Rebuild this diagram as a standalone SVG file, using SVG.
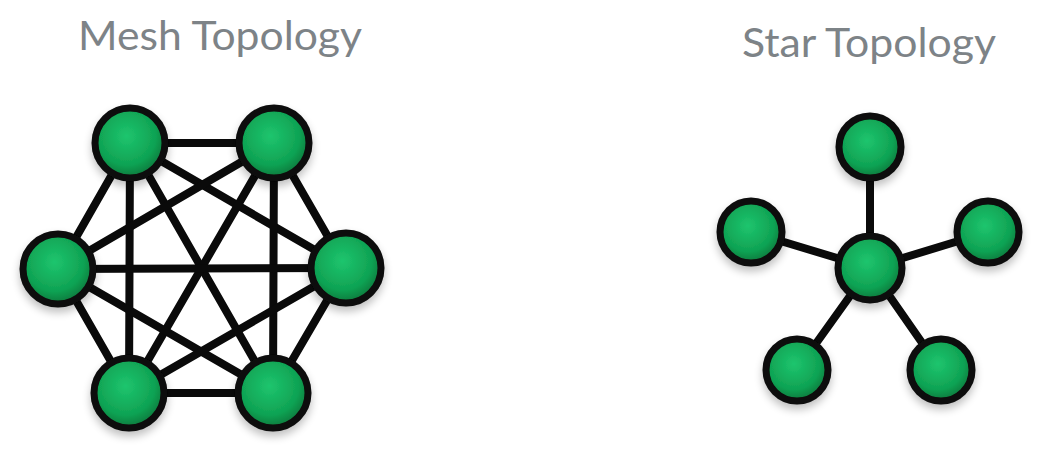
<svg xmlns="http://www.w3.org/2000/svg" width="1054" height="456" viewBox="0 0 1054 456">
<defs>
<radialGradient id="g" cx="0.45" cy="0.4" r="0.6">
<stop offset="0" stop-color="#1ec56e"/>
<stop offset="0.7" stop-color="#0fa253"/>
<stop offset="1" stop-color="#08773b"/>
</radialGradient>
<filter id="sh" x="-30%" y="-30%" width="160%" height="170%">
<feGaussianBlur in="SourceAlpha" stdDeviation="4"/>
<feOffset dy="5"/>
<feComponentTransfer><feFuncA type="linear" slope="0.25"/></feComponentTransfer>
<feMerge><feMergeNode/><feMergeNode in="SourceGraphic"/></feMerge>
</filter>
</defs>
<style>
.t{font-family:Lato,"Open Sans",sans-serif;font-size:40px;fill:#7d8387}
.e{stroke:#0a0a0a;stroke-width:8;stroke-linecap:round;fill:none}
.n{fill:url(#g);stroke:#0a0a0a;stroke-width:7;filter:url(#sh)}
</style>
<rect width="1054" height="456" fill="#ffffff"/>
<text class="t" x="78" y="50" textLength="284" lengthAdjust="spacingAndGlyphs">Mesh Topology</text>
<text class="t" x="742" y="57" textLength="254" lengthAdjust="spacingAndGlyphs">Star Topology</text>
<g id="connectors">
<g id="mesh-edges">
<line class="e" x1="130" y1="143" x2="274" y2="143"/>
<line class="e" x1="130" y1="143" x2="58" y2="269"/>
<line class="e" x1="130" y1="143" x2="346" y2="268"/>
<line class="e" x1="130" y1="143" x2="129" y2="393"/>
<line class="e" x1="130" y1="143" x2="273" y2="393"/>
<line class="e" x1="274" y1="143" x2="58" y2="269"/>
<line class="e" x1="274" y1="143" x2="346" y2="268"/>
<line class="e" x1="274" y1="143" x2="129" y2="393"/>
<line class="e" x1="274" y1="143" x2="273" y2="393"/>
<line class="e" x1="58" y1="269" x2="346" y2="268"/>
<line class="e" x1="58" y1="269" x2="129" y2="393"/>
<line class="e" x1="58" y1="269" x2="273" y2="393"/>
<line class="e" x1="346" y1="268" x2="129" y2="393"/>
<line class="e" x1="346" y1="268" x2="273" y2="393"/>
<line class="e" x1="129" y1="393" x2="273" y2="393"/>
</g>
<g id="star-edges">
<line class="e" x1="870" y1="268" x2="870" y2="147"/>
<line class="e" x1="870" y1="268" x2="751" y2="232"/>
<line class="e" x1="870" y1="268" x2="988" y2="232"/>
<line class="e" x1="870" y1="268" x2="797" y2="370"/>
<line class="e" x1="870" y1="268" x2="941" y2="370"/>
</g>
</g>
<g id="mesh-top-left"><circle class="n" cx="130" cy="143" r="35"/></g>
<g id="mesh-top-right"><circle class="n" cx="274" cy="143" r="35"/></g>
<g id="mesh-left"><circle class="n" cx="58" cy="269" r="35"/></g>
<g id="mesh-right"><circle class="n" cx="346" cy="268" r="35"/></g>
<g id="mesh-bottom-left"><circle class="n" cx="129" cy="393" r="35"/></g>
<g id="mesh-bottom-right"><circle class="n" cx="273" cy="393" r="35"/></g>
<g id="star-hub"><circle class="n" cx="870" cy="268" r="32"/></g>
<g id="star-top"><circle class="n" cx="870" cy="147" r="31"/></g>
<g id="star-left"><circle class="n" cx="751" cy="232" r="31"/></g>
<g id="star-right"><circle class="n" cx="988" cy="232" r="31"/></g>
<g id="star-bottom-left"><circle class="n" cx="797" cy="370" r="31"/></g>
<g id="star-bottom-right"><circle class="n" cx="941" cy="370" r="31"/></g>
</svg>
